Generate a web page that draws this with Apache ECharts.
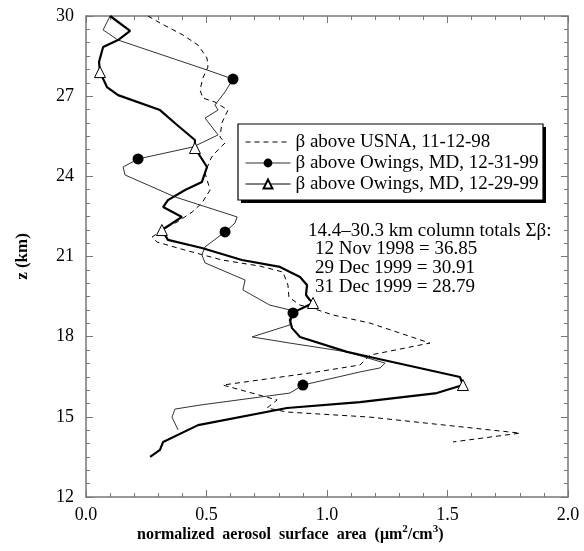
<!DOCTYPE html>
<html><head><meta charset="utf-8">
<script src="https://cdn.jsdelivr.net/npm/echarts@6/dist/echarts.min.js"></script>
<style>html,body{margin:0;padding:0;background:#fff}#c{width:584px;height:551px}</style>
</head><body><div id="c"></div>
<script>
// ---- data ----
const xTicks = [0.0, 0.5, 1.0, 1.5, 2.0];
const zTicks = [12, 15, 18, 21, 24, 27, 30];

const usnaName = 'β above USNA, 11-12-98';
const usnaX = [0.257,0.307,0.402,0.465,0.502,0.506,0.485,0.473,0.485,0.535,0.589,0.564,0.556,0.577,0.527,0.515,0.494,0.515,0.481,0.440,0.378,0.336,0.274,0.295,0.411,0.564,0.722,0.817,0.838,0.842,0.888,0.938,1.025,1.178,1.427,1.178,1.137,0.929,0.568,0.793,0.751,0.834,1.178,1.801,1.523];
const usnaZ = [30.0,29.74,29.29,28.91,28.43,28.09,27.68,27.23,26.93,26.78,26.48,26.00,25.47,25.25,24.80,24.61,24.12,23.49,23.00,22.66,22.29,22.10,21.73,21.54,21.24,20.87,20.64,20.42,19.93,19.48,19.18,19.07,18.81,18.51,17.76,17.31,16.94,16.64,16.19,15.63,15.33,15.18,14.99,14.39,14.06];

const ow31Name = 'β above Owings, MD, 12-31-99';
const ow31X = [0.100,0.071,0.133,0.502,0.610,0.577,0.535,0.548,0.494,0.548,0.444,0.216,0.154,0.162,0.369,0.627,0.618,0.577,0.494,0.481,0.494,0.660,0.651,0.763,0.846,0.859,0.846,0.689,0.846,1.083,1.241,1.220,1.137,0.900,0.846,0.473,0.369,0.357,0.382];
const ow31Z = [30.0,29.48,29.10,27.98,27.64,27.16,26.67,26.48,26.18,25.55,25.10,24.65,24.35,24.05,23.23,22.48,22.25,21.92,21.36,21.06,20.76,20.12,19.75,19.18,19.00,18.89,18.44,17.99,17.76,17.43,17.01,16.83,16.68,16.19,15.89,15.44,15.29,14.99,14.51];
const ow31Marks = [4, 11, 17, 25, 33];

const ow29Name = 'β above Owings, MD, 12-29-99';
const ow29X = [0.100,0.183,0.133,0.071,0.054,0.058,0.087,0.133,0.307,0.378,0.452,0.452,0.502,0.481,0.411,0.340,0.320,0.398,0.315,0.340,0.481,0.647,0.805,0.888,0.917,0.913,0.929,0.942,0.888,0.859,0.846,0.855,0.888,1.083,1.178,1.552,1.564,1.456,1.137,0.834,0.465,0.320,0.307,0.266];
const ow29Z = [30.0,29.44,29.10,28.84,28.28,27.90,27.34,27.04,26.48,25.92,25.36,25.06,24.35,23.79,23.49,23.11,22.85,22.48,21.99,21.62,21.32,20.87,20.61,20.23,19.93,19.56,19.37,19.26,19.03,18.89,18.62,18.32,17.99,17.43,17.24,16.49,16.19,15.89,15.55,15.33,14.69,14.06,13.76,13.50];
const ow29Marks = [5, 11, 18, 27, 36];

const totalsTitle = '14.4–30.3 km column totals Σβ:';
const totalsLines = ['12 Nov 1998 = 36.85', '29 Dec 1999 = 30.91', '31 Dec 1999 = 28.79'];

// ---- build ----
function pairs(xs, zs, marks) {
  return xs.map((x, i) => {
    const item = { value: [x, zs[i]] };
    if (marks && marks.indexOf(i) < 0) item.symbol = 'none';
    return item;
  });
}
const serif = '"Liberation Serif", "DejaVu Serif", serif';
const axisCol = '#777';

const chart = echarts.init(document.getElementById('c'), null, { renderer: 'canvas' });
const xAx = (pos, show) => ({
  type: 'value', position: pos, min: 0, max: 2, interval: 0.5,
  axisLine: { show: true, onZero: false, lineStyle: { color: axisCol, width: 1.5 } },
  axisTick: { show: true, inside: true, length: 7, lineStyle: { color: axisCol, width: 1 } },
  minorTick: { show: true, splitNumber: 5, length: 4, lineStyle: { color: axisCol, width: 1 } },
  splitLine: { show: false }, minorSplitLine: { show: false },
  axisLabel: { show: show, margin: 9, color: '#000', fontFamily: serif, fontSize: 18,
    formatter: v => xTicks.indexOf(v) >= 0 ? v.toFixed(1) : '' }
});
const yAx = (pos, show) => ({
  type: 'value', position: pos, min: 12, max: 30, interval: 3,
  axisLine: { show: true, onZero: false, lineStyle: { color: axisCol, width: 1.5 } },
  axisTick: { show: true, inside: true, length: 7, lineStyle: { color: axisCol, width: 1 } },
  minorTick: { show: true, splitNumber: 6, length: 4, lineStyle: { color: axisCol, width: 1 } },
  splitLine: { show: false }, minorSplitLine: { show: false },
  axisLabel: { show: show, margin: 12, color: '#000', fontFamily: serif, fontSize: 18,
    formatter: v => zTicks.indexOf(v) >= 0 ? String(v) : '' },
  name: show ? 'z (km)' : '', nameLocation: 'middle', nameGap: 55, nameRotate: 90,
  nameTextStyle: { color: '#000', fontFamily: serif, fontSize: 17, fontWeight: 'bold' }
});

chart.setOption({
  animation: false,
  backgroundColor: '#fff',
  grid: { left: 86, right: 16, top: 16, bottom: 54 },
  xAxis: [xAx('bottom', true), xAx('top', false)],
  yAxis: [yAx('left', true), yAx('right', false)],
  legend: {
    orient: 'vertical', left: 238, top: 124, z: 6,
    itemWidth: 45, itemHeight: 11, itemGap: 1,
    padding: [8, 10, 6, 7],
    backgroundColor: 'transparent', borderWidth: 0,
    textStyle: { color: '#000', fontFamily: serif, fontSize: 19, lineHeight: 20 },
    data: [
      { name: usnaName, lineStyle: { width: 1 }, itemStyle: { color: 'rgba(0,0,0,0)', borderColor: 'rgba(0,0,0,0)', opacity: 0 } },
      { name: ow31Name, lineStyle: { width: 1 } },
      { name: ow29Name, lineStyle: { width: 1 } }
    ]
  },
  graphic: [
    { type: 'rect', z: 5, shape: { x: 241, y: 127, width: 305, height: 76 }, style: { fill: '#000' } },
    { type: 'rect', z: 5, shape: { x: 238, y: 124, width: 305, height: 76 }, style: { fill: '#fff', stroke: '#000', lineWidth: 1.2 } },
    { type: 'text', z: 5, left: 308, top: 222, style: { text: totalsTitle, fill: '#000', font: '19px ' + serif } },
    { type: 'text', z: 5, left: 315, top: 240, style: { text: totalsLines.join('\n'), fill: '#000', font: '19px ' + serif, lineHeight: 19 } },
    { type: 'text', z: 5, left: 137, top: 524, style: {
        text: 'normalized  aerosol  surface  area  (μm{s|2}/cm{s|3})',
        fill: '#000', font: 'bold 16px ' + serif, lineHeight: 22,
        rich: { s: { font: 'bold 11px ' + serif, fill: '#000', verticalAlign: 'top', lineHeight: 12 } } } }
  ],
  series: [
    { name: usnaName, type: 'line', symbol: 'none', data: pairs(usnaX, usnaZ),
      lineStyle: { color: '#000', width: 1, type: [5, 4] }, itemStyle: { color: '#000' }, z: 2 },
    { name: ow31Name, type: 'line', symbol: 'circle', symbolSize: 11, data: pairs(ow31X, ow31Z, ow31Marks),
      lineStyle: { color: '#333', width: 1 }, itemStyle: { color: '#000', borderColor: '#000', borderWidth: 0 }, z: 2 },
    { name: ow29Name, type: 'line', symbol: 'triangle', symbolSize: 11, data: pairs(ow29X, ow29Z, ow29Marks),
      lineStyle: { color: '#000', width: 2.2 }, itemStyle: { color: '#fff', borderColor: '#000', borderWidth: 1 }, z: 3 }
  ]
});
</script>
</body></html>
